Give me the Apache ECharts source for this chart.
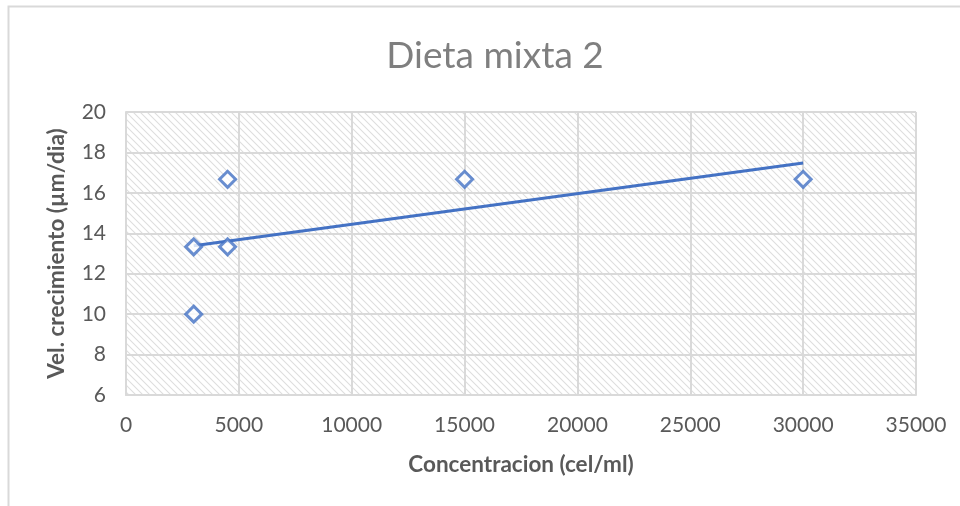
<!DOCTYPE html>
<html>
<head>
<meta charset="utf-8">
<style>
  html, body { margin: 0; padding: 0; background: #fff; }
  #chart { width: 960px; height: 506px; }
</style>
<script src="https://cdn.jsdelivr.net/npm/echarts@6/dist/echarts.min.js"></script>
</head>
<body>
<div id="chart"></div>
<script>
// Concentration (cells/ml) and growth rate (µm/day)
const concentration = [3000, 3000, 4500, 4500, 15000, 30000];
const growthRate = [13.33, 10, 13.33, 16.67, 16.67, 16.67];

const xTicks = { min: 0, max: 35000, interval: 5000 };
const yTicks = { min: 6, max: 20, interval: 2 };

const points = concentration.map((x, i) => [x, growthRate[i]]);

// Least-squares linear trend line over the data range
function linearTrend(xs, ys) {
  const n = xs.length;
  const mx = xs.reduce((a, b) => a + b, 0) / n;
  const my = ys.reduce((a, b) => a + b, 0) / n;
  let sxy = 0, sxx = 0;
  for (let i = 0; i < n; i++) {
    sxy += (xs[i] - mx) * (ys[i] - my);
    sxx += (xs[i] - mx) * (xs[i] - mx);
  }
  const slope = sxy / sxx;
  const x0 = Math.min(...xs), x1 = Math.max(...xs);
  return [[x0, my + slope * (x0 - mx)], [x1, my + slope * (x1 - mx)]];
}
const trend = linearTrend(concentration, growthRate);

// Diagonal hatch fill for the plot area
function hatchPattern() {
  const s = 7;
  const c = document.createElement('canvas');
  c.width = s; c.height = s;
  const g = c.getContext('2d');
  g.fillStyle = '#ffffff';
  g.fillRect(0, 0, s, s);
  g.strokeStyle = '#dedede';
  g.lineWidth = 1.1;
  g.beginPath();
  g.moveTo(-1, -1); g.lineTo(s + 1, s + 1);
  g.moveTo(-1, s - 1); g.lineTo(1, s + 1);
  g.moveTo(s - 1, -1); g.lineTo(s + 1, 1);
  g.stroke();
  return c;
}

const gray = '#595959';
const gridColor = '#d9d9d9';
const blue = '#4472C4';
const font = 'Lato, "Open Sans", sans-serif';

const chart = echarts.init(document.getElementById('chart'), null, { renderer: 'canvas' });
chart.setOption({
  backgroundColor: '#ffffff',
  animation: false,
  graphic: [{
    type: 'rect',
    shape: { x: 8.5, y: 6.5, width: 1000, height: 600 },
    style: { fill: 'none', stroke: '#d9d9d9', lineWidth: 2 },
    z: -1
  }],
  title: {
    text: 'Dieta mixta 2',
    left: 490,
    top: 33,
    textAlign: 'center',
    textStyle: { fontFamily: font, fontSize: 37, fontWeight: 'normal', color: '#7f7f7f' }
  },
  grid: {
    left: 126, right: 44, top: 112, bottom: 111,
    show: true,
    backgroundColor: { image: hatchPattern(), repeat: 'repeat' },
    borderWidth: 0
  },
  xAxis: {
    type: 'value',
    min: xTicks.min, max: xTicks.max, interval: xTicks.interval,
    name: 'Concentracion (cel/ml)',
    nameLocation: 'middle',
    nameGap: 58,
    nameTextStyle: { fontFamily: font, fontSize: 22.5, fontWeight: 'bold', color: gray },
    axisLine: { show: true, lineStyle: { color: gridColor, width: 2 } },
    axisTick: { show: false },
    axisLabel: { fontFamily: font, fontSize: 21, color: gray, margin: 20, formatter: v => String(v) },
    splitLine: { show: true, lineStyle: { color: gridColor, width: 2 } }
  },
  yAxis: {
    type: 'value',
    min: yTicks.min, max: yTicks.max, interval: yTicks.interval,
    name: 'Vel. crecimiento (µm/dia)',
    nameLocation: 'middle',
    nameGap: 58,
    nameTextStyle: { fontFamily: font, fontSize: 22.5, fontWeight: 'bold', color: gray },
    axisLine: { show: true, lineStyle: { color: gridColor, width: 2 } },
    axisTick: { show: false },
    axisLabel: { fontFamily: font, fontSize: 21, color: gray, margin: 20 },
    splitLine: { show: true, lineStyle: { color: gridColor, width: 2 } }
  },
  series: [
    {
      name: 'Tendencia',
      type: 'line',
      data: trend,
      symbol: 'none',
      lineStyle: { color: blue, width: 3.2 },
      z: 2
    },
    {
      name: 'Vel. crecimiento',
      type: 'scatter',
      data: points,
      symbol: 'diamond',
      symbolSize: 16,
      itemStyle: { color: '#ffffff', borderColor: blue, borderWidth: 3 },
      z: 3
    }
  ]
});
</script>
</body>
</html>
